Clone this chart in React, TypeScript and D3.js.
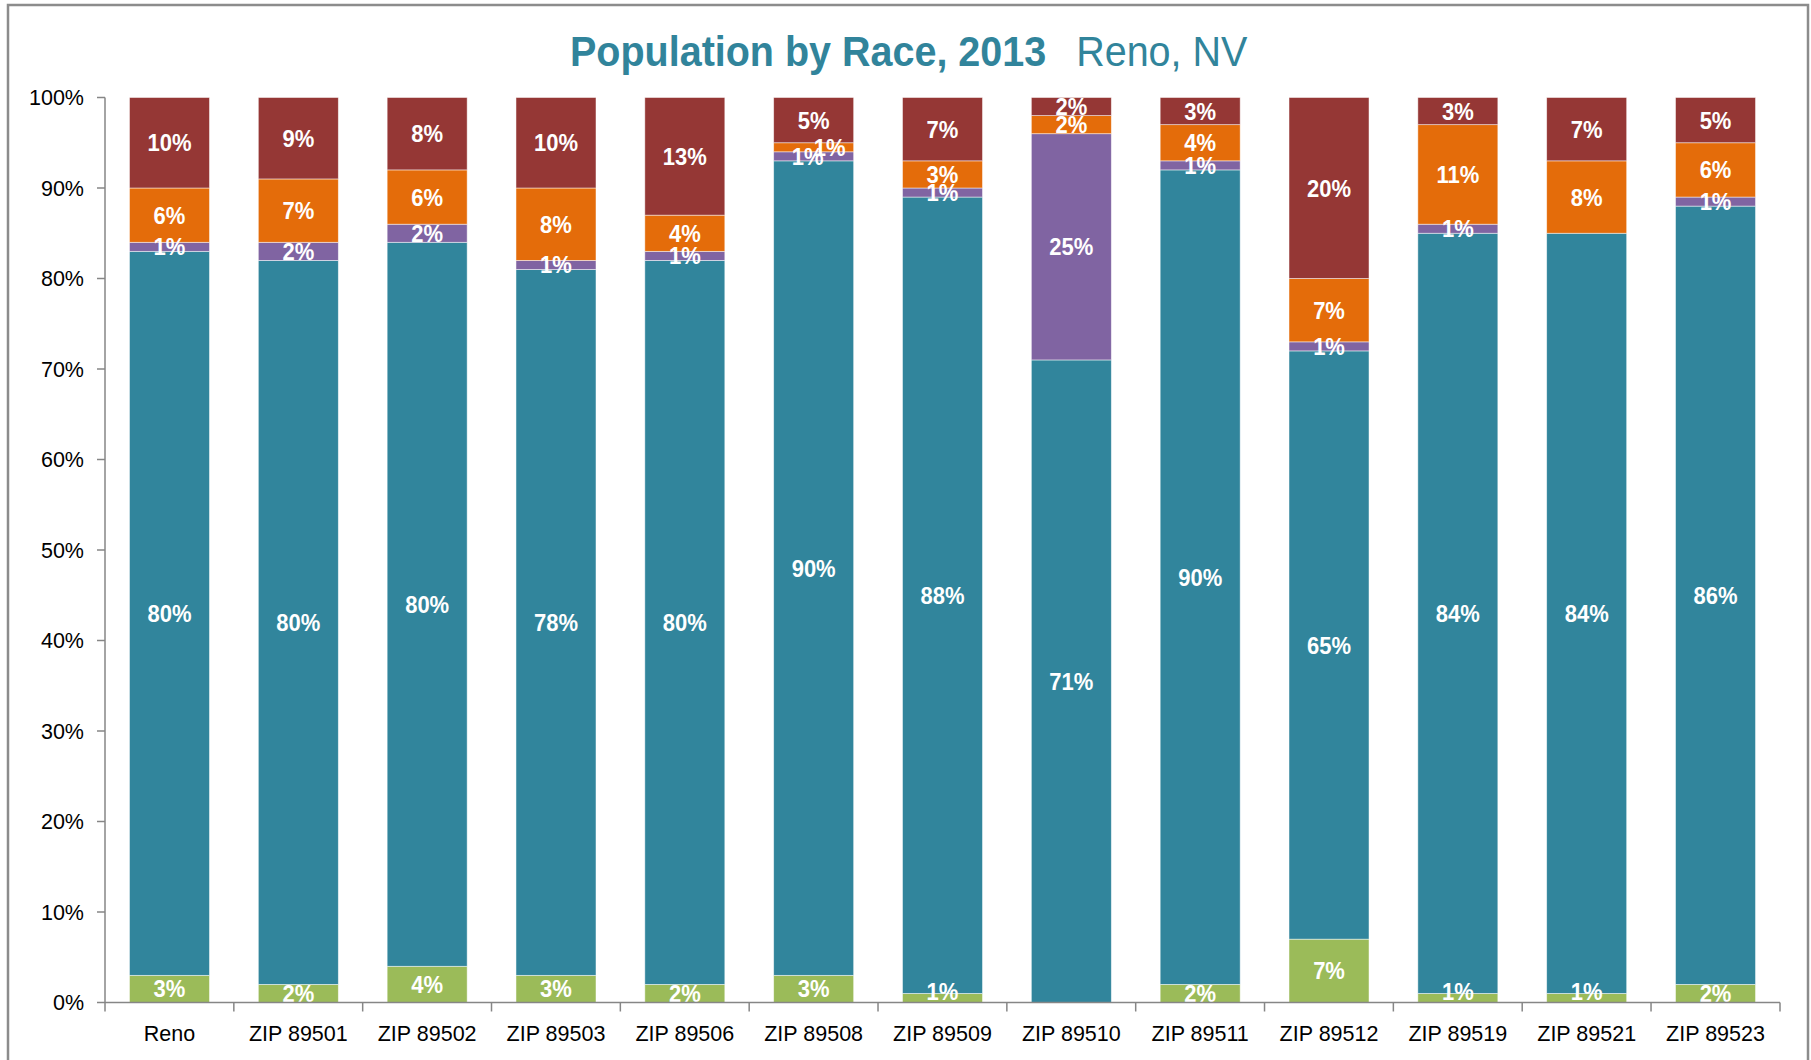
import React, { useEffect } from "react";
import * as d3 from "d3";

const categories = ["Reno", "ZIP 89501", "ZIP 89502", "ZIP 89503", "ZIP 89506", "ZIP 89508", "ZIP 89509", "ZIP 89510", "ZIP 89511", "ZIP 89512", "ZIP 89519", "ZIP 89521", "ZIP 89523"];
const seriesNames = ["Black", "White", "Asian", "Other", "Hispanic"];
const black = [3, 2, 4, 3, 2, 3, 1, 0, 2, 7, 1, 1, 2];
const white = [80, 80, 80, 78, 80, 90, 88, 71, 90, 65, 84, 84, 86];
const asian = [1, 2, 2, 1, 1, 1, 1, 25, 1, 1, 1, 0, 1];
const other = [6, 7, 6, 8, 4, 1, 3, 2, 4, 7, 11, 8, 6];
const hispanic = [10, 9, 8, 10, 13, 5, 7, 2, 3, 20, 3, 7, 5];
const seriesValues = [black, white, asian, other, hispanic];
const seriesColors = ["#9BBB59", "#31859C", "#8064A2", "#E46C0A", "#953735"];
const yTicks = [0, 10, 20, 30, 40, 50, 60, 70, 80, 90, 100];
// manual label nudges (Excel-moved labels): [seriesIndex, categoryIndex, dx]
const labelNudges: [number, number, number][] = [[3, 5, 16], [2, 5, -6]];

const W = 1811, H = 1060;
const FONT = "'Liberation Sans', Arial, Helvetica, sans-serif";

export default function App() {
  useEffect(() => {
    document.body.style.margin = "0";
  }, []);

  const x = d3.scaleBand<string>().domain(categories).range([105, 1780]).paddingInner(0.379).paddingOuter(0.19);
  const y = d3.scaleLinear().domain([0, 100]).range([1002.5, 97.5]);

  const rows = categories.map((c, i) => {
    const r: any = { cat: c };
    seriesNames.forEach((s, k) => (r[s] = seriesValues[k][i]));
    return r;
  });
  const stacked = d3.stack<any>().keys(seriesNames)(rows);

  const step = x.step();
  const boundaries = categories.map((_, i) => 105 + i * step).concat([1780]);

  return (
    <svg width={W} height={H} style={{ display: "block" }} fontFamily={FONT}>
      <rect x={0} y={0} width={W} height={H} fill="#fff" />
      <rect x={8} y={5} width={1800} height={1100} fill="none" stroke="#8c8c8c" strokeWidth={2.5} />
      <text transform="translate(570,66) scale(1,1.06)" fontSize={39.5} fill="#31849B">
        <tspan fontWeight="bold">Population by Race, 2013</tspan>
        <tspan dx={30}>Reno, NV</tspan>
      </text>
      <defs>
        <clipPath id="plotClip">
          <rect x={105} y={y(100)} width={1780 - 105} height={y(0) - y(100)} />
        </clipPath>
      </defs>
      {stacked.map((layer, k) => (
        <g key={layer.key} fill={seriesColors[k]}>
          {layer.map((d, i) => (
            <rect key={i} x={x(categories[i])} y={y(d[1])} width={x.bandwidth()} height={Math.max(0, y(d[0]) - y(d[1]))} stroke="#ffffff" strokeOpacity={0.6} strokeWidth={0.8} />
          ))}
        </g>
      ))}
      <g clipPath="url(#plotClip)">
        {stacked.map((layer, k) =>
          layer.map((d, i) => {
            const v = seriesValues[k][i];
            if (!v) return null;
            const nudge = labelNudges.find((n) => n[0] === k && n[1] === i);
            const cx = (x(categories[i]) as number) + x.bandwidth() / 2 + (nudge ? nudge[2] : 0);
            let cy = (y(d[0]) + y(d[1])) / 2;
            const segH = y(d[0]) - y(d[1]);
            if (k === 0 && segH < 14) cy = y(0) - 11.5;
            return (
              <text key={k + "-" + i} transform={`translate(${cx},${cy}) scale(1,1.08)`} dy="0.36em" textAnchor="middle" fontSize={22} fontWeight="bold" fill="#fff">
                {v + "%"}
              </text>
            );
          })
        )}
      </g>
      {/* y axis */}
      <line x1={105} x2={105} y1={y(100)} y2={y(0)} stroke="#868686" strokeWidth={1.5} />
      {yTicks.map((t) => (
        <g key={t}>
          <line x1={97} x2={105} y1={y(t)} y2={y(t)} stroke="#868686" strokeWidth={1.5} />
          <text x={84} y={y(t)} dy="0.36em" textAnchor="end" fontSize={21.5} fill="#000">
            {t + "%"}
          </text>
        </g>
      ))}
      {/* x axis */}
      <line x1={105} x2={1780} y1={y(0)} y2={y(0)} stroke="#868686" strokeWidth={1.5} />
      {boundaries.map((b, i) => (
        <line key={i} x1={b} x2={b} y1={y(0)} y2={y(0) + 9} stroke="#868686" strokeWidth={1.5} />
      ))}
      {categories.map((c) => (
        <text key={c} x={(x(c) as number) + x.bandwidth() / 2} y={1041} textAnchor="middle" fontSize={21.5} fill="#000">
          {c}
        </text>
      ))}
    </svg>
  );
}
